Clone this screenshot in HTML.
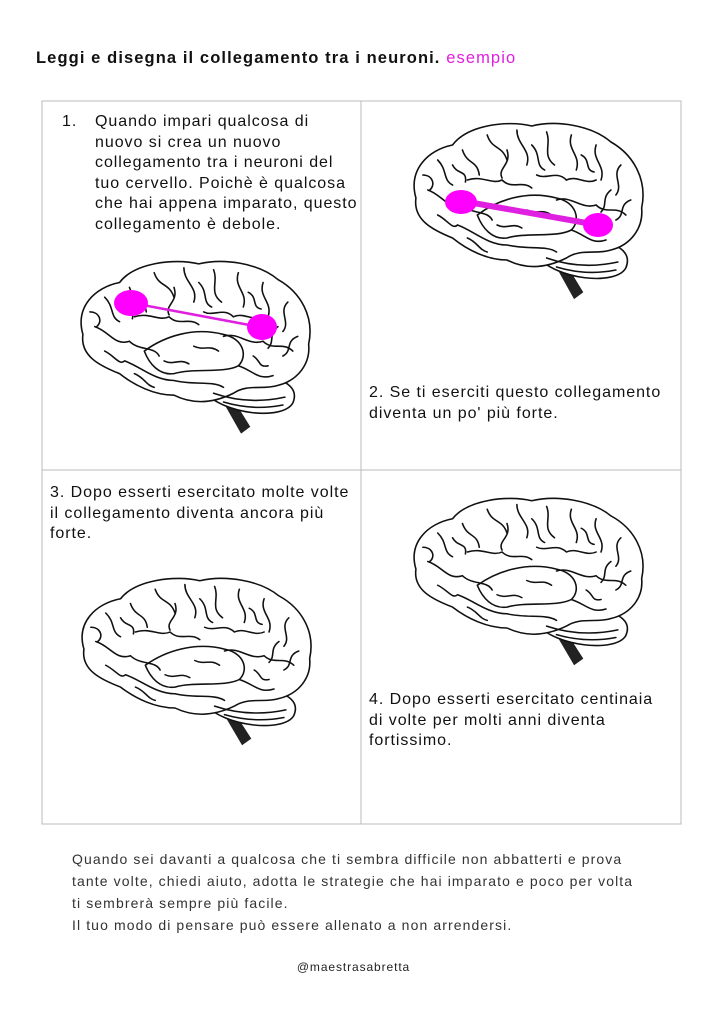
<!DOCTYPE html>
<html><head><meta charset="utf-8"><style>
body{margin:0;background:#fff;width:707px;height:1024px;position:relative;overflow:hidden;font-family:"Liberation Sans",sans-serif;color:#111}
.t{position:absolute;white-space:nowrap}
.box{font-size:16px;line-height:20.5px;letter-spacing:0.95px}
</style></head><body>
<div class="t" style="left:36px;top:49px;font-size:16.5px;font-weight:bold;letter-spacing:1.1px">Leggi e disegna il collegamento tra i neuroni. <span style="color:#e020e0;font-weight:normal">esempio</span></div>

<svg width="707" height="1024" style="position:absolute;left:0;top:0">
<defs>
<g id="brain" fill="none" stroke="#111" stroke-width="1.6" stroke-linecap="round">
<path d="M150,146 L168,178 L176,172 L160,146 Z" fill="#222" stroke="#222"/>
<path d="M130,136 C150,160 210,166 220,148 C226,134 214,124 198,124" fill="#fff"/>
<path d="M8,78 C0,50 20,30 45,25 C60,5 100,0 125,6 C150,0 185,5 205,22 C228,35 242,60 236,88 C238,108 225,125 205,130 C190,135 175,128 160,138 C140,148 120,150 100,140 C80,140 60,130 45,118 C25,110 5,100 8,78 Z" fill="#fff"/>
<path d="M30,40 C40,50 35,60 45,65 M55,30 C60,45 70,40 72,55 M80,15 C85,30 95,25 100,40 M110,10 C110,25 125,30 120,45 M140,12 C145,25 135,35 148,45 M165,15 C160,30 175,35 170,50 M190,25 C185,40 200,45 195,60 M215,45 C205,55 218,65 210,75 M225,80 C212,85 220,95 210,100"/>
<path d="M20,70 C35,75 40,90 55,85 C65,95 80,90 85,100 M60,60 C75,55 85,65 95,60 C105,70 115,60 125,68 M130,55 C140,60 150,50 160,60 C170,55 180,65 190,60 M150,80 C165,75 175,90 190,85 C200,95 210,85 220,95"/>
<path d="M70,95 C90,80 120,70 150,78 C170,82 175,100 165,110 C150,118 120,112 100,118 C85,120 75,108 70,95"/>
<path d="M50,105 C65,110 80,125 100,125 M100,125 C120,130 140,125 150,132 M165,110 C180,115 185,125 200,120 M30,95 C40,100 45,110 50,105"/>
<path d="M15,55 C25,55 28,65 22,70 M45,45 C50,55 60,50 58,62 M100,30 C105,45 90,48 95,58 M125,25 C135,35 128,45 138,50 M175,35 C185,40 178,50 188,52 M205,70 C195,78 202,85 195,92 M120,90 C130,95 135,88 145,95 M90,105 C100,110 105,102 115,108 M60,118 C70,122 72,130 80,132 M180,100 C188,105 185,112 195,110"/>
<path d="M140,138 C160,145 185,148 212,142 M150,147 C170,153 190,154 210,150"/>
</g>
</defs>
<rect x="42" y="101" width="639" height="723" fill="none" stroke="#bbb" stroke-width="1"/>
<line x1="361" y1="101" x2="361" y2="824" stroke="#bbb"/>
<line x1="42" y1="470" x2="681" y2="470" stroke="#bbb"/>

<use href="#brain" transform="translate(75,258) scale(0.99,0.98)"/>
<use href="#brain" transform="translate(408,120) scale(0.99,1.0)"/>
<use href="#brain" transform="translate(76,575) scale(0.99,0.95)"/>
<use href="#brain" transform="translate(408,495) scale(0.99,0.95)"/>

<line x1="132" y1="303" x2="260" y2="327" stroke="#e020e0" stroke-width="2.5"/>
<ellipse cx="131" cy="303" rx="17" ry="13" fill="#ff00ff"/>
<ellipse cx="262" cy="327" rx="15" ry="13" fill="#ff00ff"/>
<line x1="462" y1="201" x2="598" y2="225" stroke="#e020e0" stroke-width="6"/>
<ellipse cx="461" cy="202" rx="16" ry="12" fill="#ff00ff"/>
<ellipse cx="598" cy="225" rx="15" ry="12" fill="#ff00ff"/>
</svg>

<div class="t box" style="left:62px;top:112px">1.</div>
<div class="t box" style="left:95px;top:112px">Quando impari qualcosa di<br>nuovo si crea un nuovo<br>collegamento tra i neuroni del<br>tuo cervello. Poichè è qualcosa<br>che hai appena imparato, questo<br>collegamento è debole.</div>
<div class="t box" style="left:369px;top:383px">2. Se ti eserciti questo collegamento<br>diventa un po' più forte.</div>
<div class="t box" style="left:50px;top:483px">3. Dopo esserti esercitato molte volte<br>il collegamento diventa ancora più<br>forte.</div>
<div class="t box" style="left:369px;top:690px">4. Dopo esserti esercitato centinaia<br>di volte per molti anni diventa<br>fortissimo.</div>

<div class="t" style="left:72px;top:848px;font-size:14px;line-height:22px;color:#333;letter-spacing:1.1px">Quando sei davanti a qualcosa che ti sembra difficile non abbatterti e prova<br>tante volte, chiedi aiuto, adotta le strategie che hai imparato e poco per volta<br>ti sembrerà sempre più facile.<br>Il tuo modo di pensare può essere allenato a non arrendersi.</div>
<div class="t" style="left:0;width:707px;text-align:center;top:960px;font-size:12px;color:#222;letter-spacing:0.9px">@maestrasabretta</div>
</body></html>
